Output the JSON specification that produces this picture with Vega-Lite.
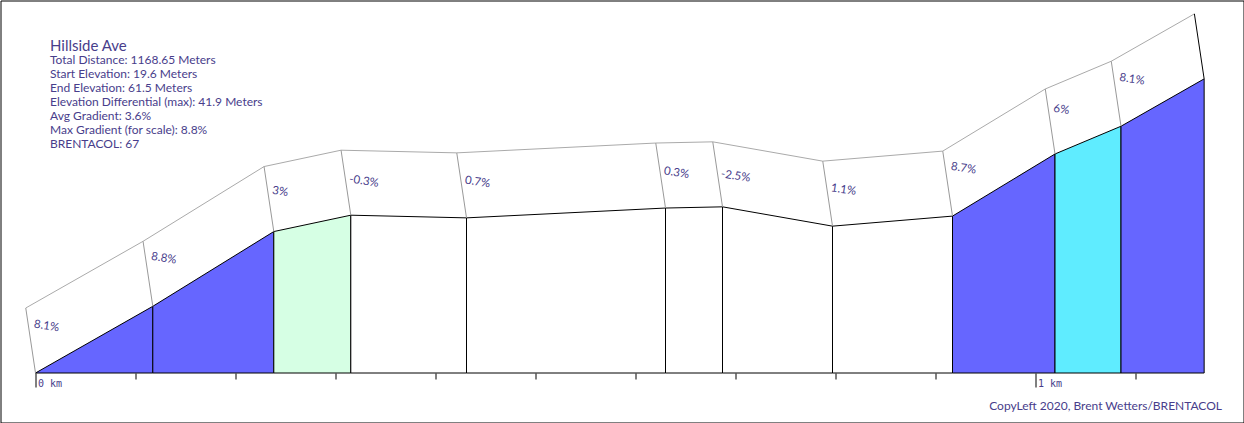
{
  "$schema": "https://vega.github.io/schema/vega-lite/v6.json",
  "width": 1243,
  "height": 422,
  "padding": 0.5,
  "autosize": {"type": "none"},
  "background": "white",
  "config": {"view": {"stroke": "#000000", "strokeWidth": 1}},
  "title": {
    "text": "Hillside Ave",
    "subtitle": ["Total Distance: 1168.65 Meters", "Start Elevation: 19.6 Meters", "End Elevation: 61.5 Meters", "Elevation Differential (max): 41.9 Meters", "Avg Gradient: 3.6%", "Max Gradient (for scale): 8.8%", "BRENTACOL: 67"],
    "anchor": "start",
    "frame": "group",
    "dx": 49.5,
    "offset": -149.5,
    "font": "Lato",
    "fontSize": 15,
    "fontWeight": "normal",
    "color": "#483d8b",
    "subtitleFont": "Lato",
    "subtitleFontSize": 12,
    "subtitleColor": "#483d8b",
    "subtitleLineHeight": 14,
    "subtitlePadding": 1
  },
  "data": {
    "values": [
      {"seg": 1, "grade": 8.1, "label": "8.1%", "d": [0, 117.3], "e": [19.6, 29.1]},
      {"seg": 2, "grade": 8.8, "label": "8.8%", "d": [117.3, 238.3], "e": [29.1, 39.75]},
      {"seg": 3, "grade": 3, "label": "3%", "d": [238.3, 315.3], "e": [39.75, 42.08]},
      {"seg": 4, "grade": -0.3, "label": "-0.3%", "d": [315.3, 431], "e": [42.08, 41.7]},
      {"seg": 5, "grade": 0.7, "label": "0.7%", "d": [431, 630], "e": [41.7, 43.1]},
      {"seg": 6, "grade": 0.3, "label": "0.3%", "d": [630, 687], "e": [43.1, 43.27]},
      {"seg": 7, "grade": -2.5, "label": "-2.5%", "d": [687, 797], "e": [43.27, 40.52]},
      {"seg": 8, "grade": 1.1, "label": "1.1%", "d": [797, 917], "e": [40.52, 41.95]},
      {"seg": 9, "grade": 8.7, "label": "8.7%", "d": [917, 1019.5], "e": [41.95, 50.8]},
      {"seg": 10, "grade": 6, "label": "6%", "d": [1019.5, 1085.5], "e": [50.8, 54.75]},
      {"seg": 11, "grade": 8.1, "label": "8.1%", "d": [1085.5, 1168.65], "e": [54.75, 61.5]}
    ]
  },
  "transform": [{"flatten": ["d", "e"]}],
  "layer": [
    {
      "mark": {"type": "area", "stroke": "#000000", "strokeWidth": 1, "fillOpacity": 1, "interpolate": "linear"},
      "encoding": {
        "x": {
          "field": "d", "type": "quantitative",
          "scale": {"domain": [-35, 1208], "nice": false, "zero": false},
          "axis": {
            "values": [0, 100, 200, 300, 400, 500, 600, 700, 800, 900, 1000, 1100],
            "offset": -49.5,
            "domain": false,
            "grid": false,
            "tickColor": "#000000",
            "tickWidth": 1,
            "tickSize": {"condition": {"test": "datum.value % 1000 === 0", "value": 14}, "value": 6},
            "labelExpr": "datum.value % 1000 === 0 ? (datum.value / 1000) + ' km' : ''",
            "labelAlign": "left",
            "labelBaseline": "top",
            "labelOffset": 2,
            "labelPadding": -9,
            "labelFlush": false,
            "labelOverlap": false,
            "labelFont": "DejaVu Sans Mono",
            "labelFontSize": 10,
            "labelColor": "#483d8b",
            "title": "CopyLeft 2020, Brent Wetters/BRENTACOL",
            "titleX": 1221,
            "titleY": 32,
            "titleAlign": "right",
            "titleBaseline": "middle",
            "titleFont": "Lato",
            "titleFontSize": 12,
            "titleFontWeight": "normal",
            "titleColor": "#483d8b"
          }
        },
        "y": {
          "field": "e", "type": "quantitative", "stack": null,
          "scale": {"domain": [12.549, 72.663], "nice": false, "zero": false},
          "axis": null
        },
        "y2": {"datum": 19.6},
        "detail": {"field": "seg"},
        "fill": {
          "field": "grade", "type": "quantitative",
          "scale": {"type": "threshold", "domain": [3, 6, 8], "range": ["#ffffff", "#d6ffe4", "#5fecff", "#6666ff"]},
          "legend": null
        }
      }
    },
    {
      "transform": [{"aggregate": [{"op": "count", "as": "n"}], "groupby": ["d", "e"]}],
      "mark": {"type": "line", "stroke": "#aaaaaa", "strokeWidth": 1, "xOffset": -9.75, "yOffset": -65},
      "encoding": {
        "x": {"field": "d", "type": "quantitative"},
        "y": {"field": "e", "type": "quantitative"}
      }
    },
    {
      "transform": [{"aggregate": [{"op": "count", "as": "n"}], "groupby": ["d", "e"]}],
      "mark": {"type": "point", "shape": "M0,0L-0.15,-1", "size": 16900, "filled": false, "strokeWidth": 1, "opacity": 1},
      "encoding": {
        "x": {"field": "d", "type": "quantitative"},
        "y": {"field": "e", "type": "quantitative"},
        "stroke": {"condition": {"test": "datum.d > 1168", "value": "#000000"}, "value": "#999999"}
      }
    },
    {
      "transform": [
        {"window": [{"op": "row_number", "as": "rn"}], "groupby": ["seg"], "sort": [{"field": "d", "order": "ascending"}]},
        {"filter": "datum.rn === 1"}
      ],
      "mark": {"type": "text", "align": "left", "baseline": "middle", "angle": 8.5, "dx": -1.5, "yOffset": {"expr": "-36 - 1.5 * datum.grade"}, "font": "Lato", "fontSize": 11.5, "color": "#483d8b"},
      "encoding": {
        "x": {"field": "d", "type": "quantitative"},
        "y": {"field": "e", "type": "quantitative"},
        "text": {"field": "label"}
      }
    }
  ]
}
